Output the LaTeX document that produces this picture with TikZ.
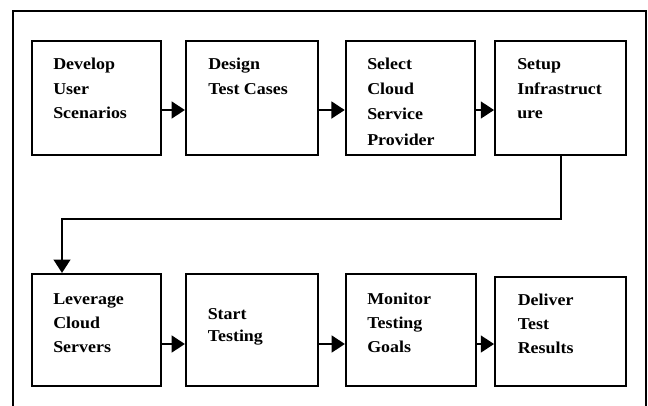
\documentclass[tikz,border=0pt]{standalone}
\usepackage{fontspec}
\setmainfont{Liberation Serif}[FakeStretch=1.08]
\usetikzlibrary{arrows.meta}

\tikzset{
  stage/.style={draw, line width=1.6pt, inner sep=0pt, minimum width=97pt, minimum height=85.5pt},
  % captions are placed by the baseline of their last line
  caption/.style={anchor=base west, inner sep=0pt, align=left,
    font=\bfseries\fontsize{12.45pt}{18.5pt}\selectfont},
  flow/.style={line width=1.5pt, -{Triangle[length=10pt,width=12.5pt]}},
  step arrow/.style={flow, line width=2pt},
  frame/.style={line width=1.5pt},
}

\begin{document}
\begin{tikzpicture}[x=0.75pt, y=-0.75pt]
\useasboundingbox (0,0) rectangle (648,405);

% open frame around the whole chart
\draw[frame] (12.5,410) -- (12.5,10.5) -- (645.5,10.5) -- (645.5,410);

% first row of stages
\node[stage] (b1) at (96.5,98) {};
\node[stage, minimum width=99pt] (b2) at (252,98) {};
\node[stage] (b3) at (410.5,98) {};
\node[stage, minimum width=98pt] (b4) at (560.5,98) {};

% second row of stages
\node[stage, minimum height=84pt] (b5) at (96.5,330) {};
\node[stage, minimum width=99pt, minimum height=84pt] (b6) at (252,330) {};
\node[stage, minimum width=97.5pt, minimum height=84pt] (b7) at (411,330) {};
\node[stage, minimum width=98pt, minimum height=81.75pt] (b8) at (560.5,331.5) {};

% stage captions
\node[caption] (t1) at (53,118.7) {Develop\\User\\Scenarios};
\node[caption] (t2) at (208,94) {Design\\Test Cases};
\node[caption, font=\bfseries\fontsize{12.45pt}{19pt}\selectfont] (t3) at (367,145.3) {Select\\Cloud\\Service\\Provider};
\node[caption] (t4) at (517,118.7) {Setup\\Infrastruct\\ure};
\node[caption, font=\bfseries\fontsize{12.45pt}{18pt}\selectfont] (t5) at (53,352) {Leverage\\Cloud\\Servers};
\node[caption, font=\bfseries\fontsize{12.45pt}{16.1pt}\selectfont] (t6) at (207.5,341) {Start\\Testing};
\node[caption, font=\bfseries\fontsize{12.45pt}{18pt}\selectfont] (t7) at (367,352) {Monitor\\Testing\\Goals};
\node[caption, font=\bfseries\fontsize{12.45pt}{18pt}\selectfont] (t8) at (517.5,353.5) {Deliver\\Test\\Results};

% arrows along the first row
\coordinate (a1) at ([yshift=-9pt]b1.east);
\coordinate (a2) at ([yshift=-9pt]b2.east);
\coordinate (a3) at ([yshift=-9pt]b3.east);
\draw[step arrow] (a1) -- (a1 -| b2.west);
\draw[step arrow] (a2) -- (a2 -| b3.west);
\draw[step arrow] (a3) -- (a3 -| b4.west);

% return path from the end of the first row to the start of the second
\coordinate (k1) at (b4.south |- 0,219);
\coordinate (k2) at (62,219);
\draw[flow] (b4.south) -- (k1) -- (k2) -- (k2 |- b5.north);

% arrows along the second row
\coordinate (a5) at ([yshift=-10.5pt]b5.east);
\coordinate (a6) at ([yshift=-10.5pt]b6.east);
\coordinate (a7) at ([yshift=-10.5pt]b7.east);
\draw[step arrow] (a5) -- (a5 -| b6.west);
\draw[step arrow] (a6) -- (a6 -| b7.west);
\draw[step arrow] (a7) -- (a7 -| b8.west);
\end{tikzpicture}
\end{document}
